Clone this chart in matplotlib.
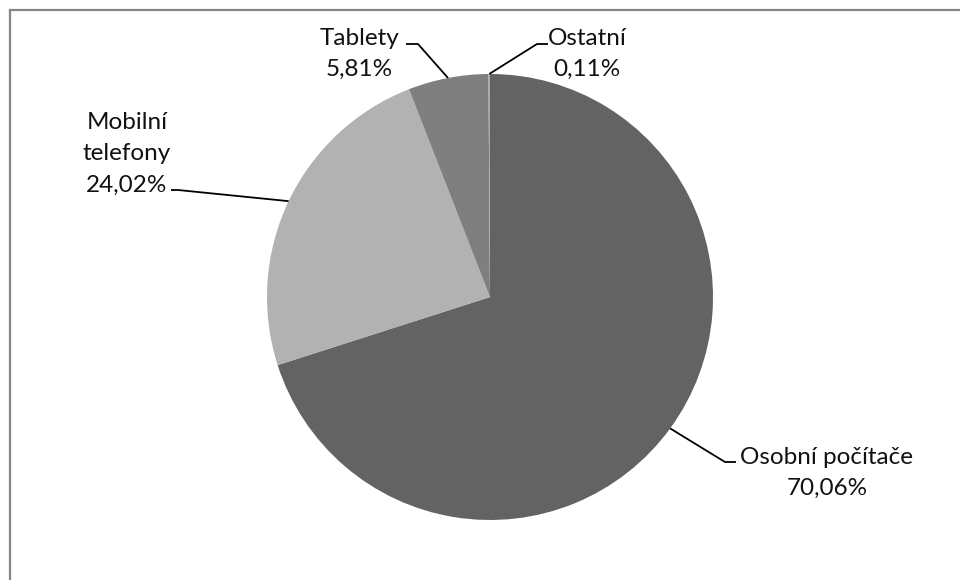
import numpy as np
import matplotlib.pyplot as plt
from matplotlib.lines import Line2D

labels = ['Osobní počítače', 'Mobilní telefony', 'Tablety', 'Ostatní']
shares = [70.06, 24.02, 5.81, 0.11]
colors = ['#636363', '#b2b2b2', '#7f7f7f', '#a8a8a8']

# label text (line-broken like the original) and where it sits, in pixels
label_text = ['Osobní počítače\n70,06%', 'Mobilní\ntelefony\n24,02%',
              'Tablety\n5,81%', 'Ostatní\n0,11%']
label_pos = [(827, 473), (127, 154), (359, 54), (587, 54)]
# leader elbow: (bend point, end point) in pixels
elbows = [((725, 462), (736, 462)), ((178, 190), (171, 190)),
          ((418, 44), (406, 44)), ((537, 44), (548, 44))]

W, H = 960, 580
CX, CY, R = 490, 297, 223

plt.rcParams['font.family'] = ['Lato', 'DejaVu Sans']

fig = plt.figure(figsize=(W / 100, H / 100), dpi=100)
ax = fig.add_axes([(CX - R) / W, (H - CY - R) / H, 2 * R / W, 2 * R / H])
ax.set_aspect('equal')
ax.axis('off')

wedges, _ = ax.pie(shares, colors=colors, startangle=90, counterclock=False,
                   radius=1, center=(0, 0), frame=False)
ax.set_xlim(-1, 1)
ax.set_ylim(-1, 1)


def px2data(p):
    return (p[0] - CX) / R, (CY - p[1]) / R


for w, txt, pos, (bend, end) in zip(wedges, label_text, label_pos, elbows):
    mid = np.deg2rad((w.theta1 + w.theta2) / 2)
    start = (np.cos(mid), np.sin(mid))
    b = px2data(bend)
    e = px2data(end)
    ax.plot([start[0], b[0], e[0]], [start[1], b[1], e[1]],
            color='black', lw=1.3, clip_on=False, solid_capstyle='butt')
    fig.text(pos[0] / W, 1 - pos[1] / H, txt, ha='center', va='center',
             fontsize=17.5, linespacing=1.62, color='#111111')

# chart frame (only top and left edges are visible in the crop)
fig.add_artist(Line2D([9.5 / W, 9.5 / W], [0, 1 - 9.5 / H], color='#868686', lw=1.6,
                      transform=fig.transFigure))
fig.add_artist(Line2D([9.5 / W, 1], [1 - 9.5 / H, 1 - 9.5 / H], color='#868686', lw=1.6,
                      transform=fig.transFigure))

fig.savefig('out.png', dpi=100)
